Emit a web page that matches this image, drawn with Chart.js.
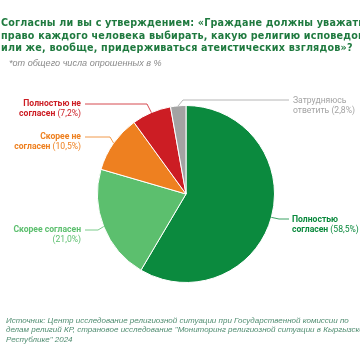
<!DOCTYPE html>
<html>
<head>
<meta charset="utf-8">
<script src="https://cdn.jsdelivr.net/npm/chart.js@4"></script>
<style>
  html, body { margin: 0; padding: 0; background: #fff; }
  #wrap { position: relative; width: 360px; height: 360px; overflow: hidden; }
  #pie { position: absolute; left: 0; top: 0; }
  .title {
    position: absolute; left: 1px; top: 17px; width: 420px;
    font: bold 9.6px "DejaVu Sans", sans-serif; color: #1f7a3f;
    line-height: 12.5px; white-space: nowrap; letter-spacing: 0.2px;
  }
  .sub {
    position: absolute; left: 9px; top: 58px;
    font: italic 9.1px "Liberation Sans", sans-serif; color: #8a8a8a; white-space: nowrap;
  }
  .src {
    position: absolute; left: 6px; top: 316px; width: 420px;
    font: italic 8px "Liberation Sans", sans-serif; color: #4f8c70;
    line-height: 9.3px; white-space: nowrap;
  }
</style>
</head>
<body>
<div id="wrap">
  <canvas id="pie" width="360" height="360"></canvas>
  <div class="title">Согласны ли вы с утверждением: «Граждане должны уважать<br>право каждого человека выбирать, какую религию исповедовать<br>или же, вообще, придерживаться атеистических взглядов»?</div>
  <div class="sub">*от общего числа опрошенных в %</div>
  <div class="src">Источник: Центр исследование религиозной ситуации при Государственной комиссии по<br>делам религий КР, страновое исследование "Мониторинг религиозной ситуации в Кыргызской<br>Республике" 2024</div>
</div>
<script>
// ── Data ──────────────────────────────────────────────────────────────────────
const categories = ["Полностью согласен", "Скорее согласен", "Скорее не согласен", "Полностью не согласен", "Затрудняюсь ответить"];
const values     = [58.5, 21.0, 10.5, 7.2, 2.8];
const valueText  = ["(58,5%)", "(21,0%)", "(10,5%)", "(7,2%)", "(2,8%)"];
const colors     = ["#0b8a3e", "#5cbf6e", "#ee8020", "#cc1d24", "#a3a3a3"];

// label layout: lines of [bold part, show value], anchor, alignment, elbow point
const labelLayout = [
  { lines: [["Полностью", 0], ["согласен ", 1]], x: 292, y: 220, align: "left",  elbow: [279, 219], end: 289 },
  { lines: [["Скорее согласен", 0], ["", 1]],    x: 81,  y: 230, align: "right", elbow: [98, 230],  end: 85 },
  { lines: [["Скорее не", 0], ["согласен ", 1]], x: 81,  y: 137, align: "right", elbow: [110, 137], end: 85 },
  { lines: [["Полностью не", 0], ["согласен ", 1]], x: 81, y: 104, align: "right", elbow: [147, 104], end: 85 },
  { lines: [["Затрудняюсь", 0], ["ответить ", 1]], x: 293, y: 101, align: "left", elbow: [183, 100], end: 289, normal: true },
];

const BOLD = 'bold 8.6px Roboto, sans-serif';
const NORM = '8.6px Roboto, sans-serif';

const leaderLabels = {
  id: "leaderLabels",
  afterDatasetsDraw(chart) {
    const ctx = chart.ctx;
    const arcs = chart.getDatasetMeta(0).data;
    ctx.save();
    arcs.forEach((arc, i) => {
      const L = labelLayout[i];
      const mid = (arc.startAngle + arc.endAngle) / 2;
      const ex = arc.x + Math.cos(mid) * arc.outerRadius;
      const ey = arc.y + Math.sin(mid) * arc.outerRadius;
      ctx.strokeStyle = colors[i];
      ctx.lineWidth = 0.8;
      ctx.beginPath();
      ctx.moveTo(ex, ey);
      ctx.lineTo(L.elbow[0], L.elbow[1]);
      ctx.lineTo(L.end, L.elbow[1]);
      ctx.stroke();

      ctx.fillStyle = colors[i];
      ctx.textBaseline = "middle";
      ctx.textAlign = "left";
      L.lines.forEach((ln, k) => {
        const boldPart = ln[0];
        const normPart = ln[1] ? valueText[i] : "";
        ctx.font = L.normal ? NORM : BOLD;
        const wb = ctx.measureText(boldPart).width;
        ctx.font = NORM;
        const wn = ctx.measureText(normPart).width;
        const x0 = L.align === "right" ? L.x - wb - wn : L.x;
        const y = L.y + k * 10;
        ctx.font = L.normal ? NORM : BOLD;
        ctx.fillText(boldPart, x0, y);
        ctx.font = NORM;
        ctx.fillText(normPart, x0 + wb, y);
      });
    });
    ctx.restore();
  }
};

new Chart(document.getElementById("pie"), {
  type: "pie",
  data: {
    labels: categories,
    datasets: [{
      data: values,
      backgroundColor: colors,
      borderColor: "#ffffff",
      borderWidth: 1,
    }],
  },
  options: {
    responsive: false,
    animation: false,
    layout: { padding: { left: 97, right: 85, top: 105, bottom: 77 } },
    plugins: { legend: { display: false }, tooltip: { enabled: false } },
  },
  plugins: [leaderLabels],
});
</script>
</body>
</html>
